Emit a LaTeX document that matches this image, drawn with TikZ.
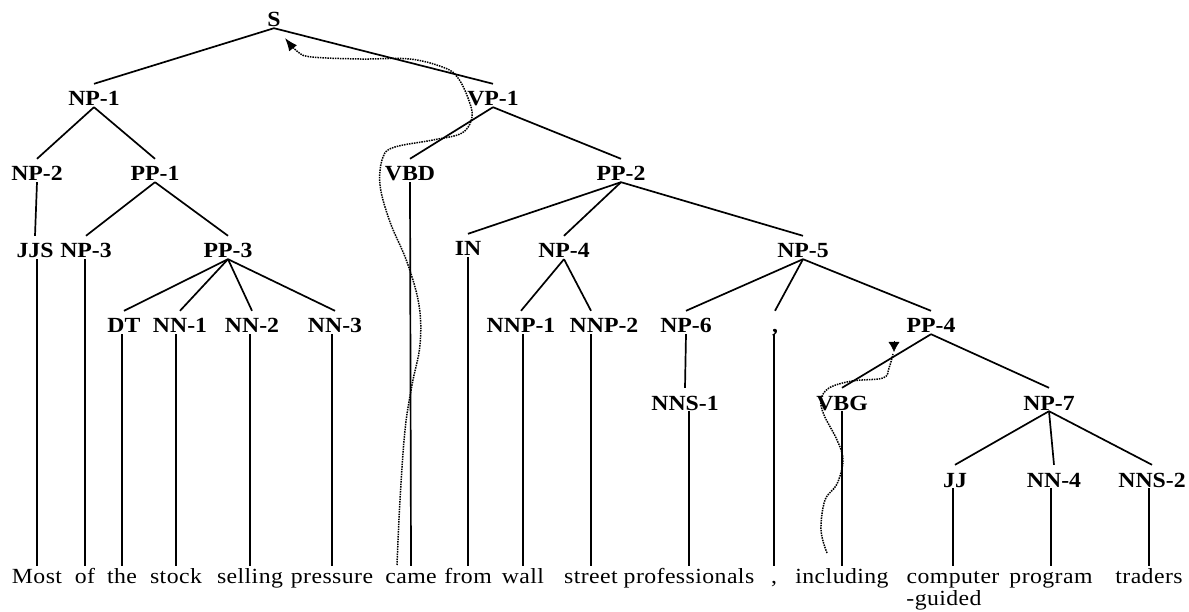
\documentclass[tikz,border=0pt]{standalone}
\usepackage{fontspec}
\setmainfont{Liberation Serif}[FakeStretch=1.1]
\newfontfamily\wordfont{Liberation Serif}[FakeStretch=1.1,LetterSpace=2]
\usetikzlibrary{arrows.meta}

\begin{document}
\begin{tikzpicture}[x=1pt,y=-1pt]
\tikzstyle{lab}=[font=\fontsize{21.6}{24}\selectfont\bfseries,anchor=base,inner sep=1pt,text height=21pt,text depth=0pt]
\tikzstyle{word}=[font=\wordfont\fontsize{21.6}{24}\selectfont,anchor=base,inner sep=1pt,text height=16pt]
\tikzstyle{branch}=[black,line width=1.7pt]
\tikzstyle{moveline}=[black,line width=1.5pt,densely dotted]
\useasboundingbox (0,0) rectangle (1189,612);
% phrase labels
\node [lab] (s) at (274,27) {S};
\node [lab] (np1) at (94,106) {NP-1};
\node [lab] (vp1) at (493,106) {VP-1};
\node [lab] (np2) at (37,181) {NP-2};
\node [lab] (pp1) at (155,181) {PP-1};
\node [lab] (vbd) at (410,181) {VBD};
\node [lab] (pp2) at (621,181) {PP-2};
\node [lab] (jjs) at (35,258) {JJS};
\node [lab] (np3) at (86,258) {NP-3};
\node [lab] (pp3) at (228,258) {PP-3};
\node [lab] (in) at (468,256) {IN};
\node [lab] (np4) at (564,258) {NP-4};
\node [lab] (np5) at (803,258) {NP-5};
\node [lab] (dt) at (124,333) {DT};
\node [lab] (nn1) at (180,333) {NN-1};
\node [lab] (nn2) at (252,333) {NN-2};
\node [lab] (nn3) at (335,333) {NN-3};
\node [lab] (nnp1) at (521,333) {NNP-1};
\node [lab] (nnp2) at (604,333) {NNP-2};
\node [lab] (np6) at (686,333) {NP-6};
\node [lab] (comma) at (775,333) {,};
\node [lab] (pp4) at (931,333) {PP-4};
\node [lab] (nns1) at (685,410) {NNS-1};
\node [lab] (vbg) at (842,410) {VBG};
\node [lab] (np7) at (1049,410) {NP-7};
\node [lab] (jj) at (955,487) {JJ};
\node [lab] (nn4) at (1054,487) {NN-4};
\node [lab] (nns2) at (1152,487) {NNS-2};
% words
\node [word] (w1) at (37,583) {Most};
\node [word] (w2) at (85,583) {of};
\node [word] (w3) at (122,583) {the};
\node [word] (w4) at (176,583) {stock};
\node [word] (w5) at (250,583) {selling};
\node [word] (w6) at (332,583) {pressure};
\node [word] (w7) at (411,583) {came};
\node [word] (w8) at (468,583) {from};
\node [word] (w9) at (523,583) {wall};
\node [word] (w10) at (591,583) {street};
\node [word] (w11) at (689,583) {professionals};
\node [word] (w12) at (774,583) {,};
\node [word] (w13) at (842,583) {including};
\node [word] (w14) at (953,583) {computer};
\node [word] (w14b) at (944,605) {-guided};
\node [word] (w15) at (1051,583) {program};
\node [word] (w16) at (1149,583) {traders};
% branches
\draw [branch] (s.south) -- (np1.north);
\draw [branch] (s.south) -- (vp1.north);
\draw [branch] (np1.south) -- (np2.north);
\draw [branch] (np1.south) -- (pp1.north);
\draw [branch] (vp1.south) -- (vbd.north);
\draw [branch] (vp1.south) -- (pp2.north);
\draw [branch] (np2.south) -- (jjs.north);
\draw [branch] (pp1.south) -- (np3.north);
\draw [branch] (pp1.south) -- (pp3.north);
\draw [branch] (pp2.south) -- (in.north);
\draw [branch] (pp2.south) -- (np4.north);
\draw [branch] (pp2.south) -- (np5.north);
\draw [branch] (pp3.south) -- (dt.north);
\draw [branch] (pp3.south) -- (nn1.north);
\draw [branch] (pp3.south) -- (nn2.north);
\draw [branch] (pp3.south) -- (nn3.north);
\draw [branch] (np4.south) -- (nnp1.north);
\draw [branch] (np4.south) -- (w10.north |- nnp2.north);
\draw [branch] (np5.south) -- (np6.north);
\draw [branch] (np5.south) -- (comma.north);
\draw [branch] (np5.south) -- (pp4.north);
\draw [branch] (np6.south) -- (nns1.north);
\draw [branch] (pp4.south) -- (vbg.north);
\draw [branch] (pp4.south) -- (np7.north);
\draw [branch] (np7.south) -- (jj.north);
\draw [branch] (np7.south) -- (nn4.north);
\draw [branch] (np7.south) -- (nns2.north);
% pre-terminals to words
\draw [branch] (w1.north |- jjs.south) -- (w1.north);
\draw [branch] (w2.north |- np3.south) -- (w2.north);
\draw [branch] (w3.north |- dt.south) -- (w3.north);
\draw [branch] (w4.north |- nn1.south) -- (w4.north);
\draw [branch] (w5.north |- nn2.south) -- (w5.north);
\draw [branch] (w6.north |- nn3.south) -- (w6.north);
\draw [branch] (vbd.south) -- (w7.north);
\draw [branch] (w8.north |- in.south) -- (w8.north);
\draw [branch] (w9.north |- nnp1.south) -- (w9.north);
\draw [branch] (w10.north |- nnp2.south) -- (w10.north);
\draw [branch] (w11.north |- nns1.south) -- (w11.north);
\draw [branch] (w12.north |- comma.south) -- (w12.north);
\draw [branch] (w13.north |- vbg.south) -- (w13.north);
\draw [branch] (w14.north |- jj.south) -- (w14.north);
\draw [branch] (w15.north |- nn4.south) -- (w15.north);
\draw [branch] (w16.north |- nns2.south) -- (w16.north);
% movement traces
\coordinate (tr1a) at (397,565);
\coordinate (tr1b) at (285,38);
\draw [moveline,-{Latex[length=13pt,width=10pt]}] plot [smooth,tension=0.6] coordinates {(tr1a) (400,500) (405,430) (412,385) (420,345) (419,305) (407,262) (390,222) (380,185) (383,157) (395,147) (433,140) (462,133) (472,117) (468,98) (458,78) (445,68) (410,59) (360,59) (312,57) (298,52) (tr1b)};
\coordinate (tr2a) at (827,553);
\coordinate (tr2b) at (893,354);
\coordinate (tip2) at (894,352);
\coordinate (tip2top) at (894,341);
\draw [moveline] plot [smooth,tension=0.6] coordinates {(tr2a) (821,530) (825,500) (837,484) (843,460) (837,440) (824,415) (821,400) (829,388) (852,381) (883,378) (889,368) (tr2b)};
\draw [line width=0.4pt,-{Latex[length=10pt,width=11pt]}] (tip2top) -- (tip2);
\end{tikzpicture}
\end{document}
